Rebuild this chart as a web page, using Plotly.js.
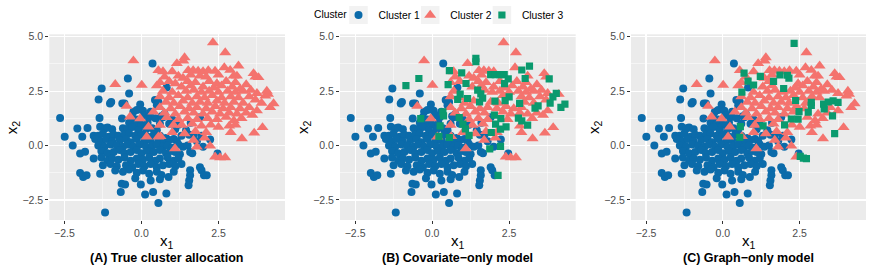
<!DOCTYPE html>
<html>
<head>
<meta charset="utf-8">
<script src="https://cdn.plot.ly/plotly-3.0.1.min.js"></script>
<style>html,body{margin:0;padding:0;background:#fff;}#chart{width:872px;height:277px;}</style>
</head>
<body>
<div id="chart"></div>
<script>
// ---- Data ----
// True cluster 1 points (x1, x2)
const c1_pts = [
[-1.29,2.62],[0.82,2.67],[-0.40,2.39],[-0.44,3.08],[0.36,3.77],
[-1.39,2.12],[0.44,2.09],[0.55,2.0],
[-1.02,1.93],[-0.98,2.0],[-0.62,1.93],[-0.55,1.93],[-0.04,1.89],[0.5,1.85],
[-0.26,1.55],[-0.15,1.63],[0.05,1.6],[0.3,1.55],[0.75,1.45],[0.1,1.4],
[-2.64,1.27],[-1.36,1.27],[-0.63,1.24],[-0.3,1.3],[-0.15,1.2],[0.25,1.3],[0.45,1.25],[0.65,1.35],[0.7,1.3],[1.0,1.2],[1.9,1.3],
[-0.4,1.05],[-0.2,1.0],[0.0,0.95],[0.2,1.05],[0.6,1.0],[0.9,1.0],[1.2,0.95],[1.6,1.05],
[-2.08,0.78],[-1.75,0.81],[-1.34,0.86],[-1.18,0.8],[-1.1,0.83],[-0.95,0.75],[-0.6,0.8],[-0.45,0.75],[-0.3,0.85],[-0.1,0.7],[0.15,0.75],[0.35,0.8],[0.5,0.7],[1.1,0.75],[1.45,0.7],
[-1.55,0.45],[-1.4,0.45],[-1.25,0.55],[-1.05,0.4],[-0.9,0.5],[-0.75,0.45],[-0.55,0.5],[-0.4,0.55],[-0.2,0.45],[0.0,0.5],[0.2,0.4],[0.4,0.5],[0.6,0.45],[0.8,0.35],[1.3,0.45],[1.55,0.5],[1.7,0.5],[1.95,0.45],
[-2.49,0.40],[-1.92,0.40],[-1.5,0.3],[-1.3,0.2],[-1.15,0.3],[-0.95,0.2],[-0.7,0.25],[-0.5,0.3],[-0.35,0.15],[-0.15,0.3],[0.1,0.2],[0.3,0.25],[0.55,0.2],[0.75,0.15],[0.9,0.25],[1.05,0.3],[1.15,0.2],[1.8,0.2],[2.23,0.28],
[-2.23,0.0],[-1.4,0.0],[-1.2,-0.05],[-1.0,0.05],[-0.8,0.0],[-0.6,-0.05],[-0.45,0.05],[-0.25,-0.05],[-0.05,0.05],[0.15,-0.05],[0.35,0.0],[0.5,0.05],[0.7,-0.05],[0.85,0.0],[1.0,-0.1],[1.2,0.05],[1.35,-0.05],[1.5,0.0],[2.0,-0.06],
[-1.99,-0.37],[-1.83,-0.29],[-1.3,-0.25],[-1.1,-0.35],[-0.9,-0.3],[-0.7,-0.2],[-0.55,-0.35],[-0.35,-0.3],[-0.15,-0.2],[0.0,-0.35],[0.2,-0.25],[0.4,-0.3],[0.6,-0.2],[0.8,-0.35],[0.95,-0.25],[1.1,-0.3],[1.25,-0.4],[1.58,-0.3],[1.65,-0.35],[2.47,-0.37],
[-1.55,-0.6],[-1.3,-0.55],[-1.1,-0.7],[-0.95,-0.6],[-0.75,-0.65],[-0.55,-0.55],[-0.35,-0.7],[-0.15,-0.6],[0.05,-0.65],[0.25,-0.55],[0.45,-0.7],[0.6,-0.6],[0.85,-0.55],[1.05,-0.7],[1.2,-0.6],
[-1.25,-0.9],[-1.0,-0.85],[-0.8,-0.95],[-0.5,-0.9],[-0.3,-1.0],[-0.1,-0.85],[0.1,-0.95],[0.3,-0.85],[0.5,-1.0],[0.7,-0.9],[0.9,-0.85],[1.1,-0.95],[1.3,-0.85],
[-1.99,-1.26],[-1.89,-1.44],[-1.78,-1.37],[-1.34,-1.29],[-0.85,-1.15],[-0.6,-1.2],[-0.4,-1.1],[-0.15,-1.25],[0.05,-1.15],[0.25,-1.3],[0.5,-1.2],[0.65,-1.35],[0.88,-1.44],[1.05,-1.2],[1.58,-1.13],[1.9,-1.0],[1.95,-1.13],[2.03,-1.37],[2.12,-1.37],
[-0.2,-1.5],[0.3,-1.6],[0.6,-1.55],[1.58,-1.37],[1.55,-1.6],[1.53,-1.82],
[-0.64,-1.75],[-0.53,-1.79],[-0.67,-2.13],[-0.02,-1.79],[0.12,-2.25],[0.38,-2.13],[0.55,-2.64],[0.81,-2.2],[-1.18,-3.08]
];
// True cluster 2 points
const c2_pts = [
[2.32,4.73],[2.72,4.27],[1.40,4.04],[1.36,3.89],[-0.26,3.90],
[1.15,3.77],[3.15,3.66],[2.69,3.58],
[0.55,3.45],[0.7,3.4],[1.0,3.4],[1.52,3.45],[1.68,3.45],[1.84,3.42],[2.0,3.4],[2.17,3.45],[2.39,3.42],[2.88,3.46],[3.64,3.31],
[0.75,3.15],[1.2,3.2],[1.35,3.1],[1.6,3.25],[1.9,3.2],[2.1,3.15],[2.5,3.25],[2.99,3.2],[3.1,3.2],[3.8,3.13],[3.7,3.15],
[0.6,2.9],[0.9,2.95],[1.1,2.85],[1.5,2.95],[1.75,2.9],[2.2,2.95],[2.45,2.85],[2.75,2.95],[3.05,2.9],[3.4,2.8],
[-0.85,2.81],[0.01,2.78],[0.5,2.75],[1.3,2.7],[1.6,2.75],[2.0,2.7],[2.35,2.65],[2.6,2.75],[2.95,2.7],[3.2,2.6],
[0.7,2.5],[1.0,2.45],[1.45,2.5],[1.7,2.55],[1.95,2.45],[2.2,2.5],[2.5,2.45],[2.8,2.5],[3.05,2.45],[3.3,2.5],[3.55,2.55],[3.75,2.4],[4.02,2.28],[4.11,2.36],[4.07,2.5],
[0.6,2.25],[0.9,2.2],[1.2,2.3],[1.5,2.2],[1.8,2.25],[2.05,2.2],[2.3,2.3],[2.6,2.2],[2.9,2.25],[3.15,2.2],[3.5,2.25],[3.7,2.1],
[0.8,2.0],[1.05,1.95],[1.35,2.05],[1.65,1.95],[1.9,2.0],[2.15,1.95],[2.45,2.05],[2.7,1.95],[3.0,2.0],[3.3,1.95],[3.9,1.95],[4.29,1.93],[4.18,1.75],
[-0.48,1.81],[0.6,1.75],[0.95,1.7],[1.25,1.8],[1.55,1.7],[1.8,1.75],[2.1,1.7],[2.4,1.8],[2.65,1.7],[2.9,1.75],[3.2,1.7],[3.5,1.75],[3.75,1.6],
[0.39,1.55],[0.75,1.5],[1.1,1.45],[1.4,1.55],[1.7,1.5],[2.0,1.45],[2.3,1.55],[2.55,1.45],[2.85,1.5],[3.1,1.45],[3.4,1.5],[3.6,1.4],
[-0.37,1.32],[-0.04,1.24],[0.82,1.29],[1.2,1.2],[1.5,1.25],[1.8,1.2],[2.15,1.25],[2.45,1.2],[2.75,1.3],[3.0,1.15],[3.25,1.25],
[0.23,0.86],[0.6,0.94],[1.04,0.94],[1.31,0.94],[1.65,1.0],[1.95,0.9],[2.25,0.95],[2.5,0.85],[2.85,0.9],[3.05,0.95],
[1.0,0.6],[1.4,0.55],[1.75,0.65],[2.1,0.6],[2.9,0.6],[3.66,0.58],[3.93,0.83],
[0.17,0.40],[0.55,0.4],[0.62,0.42],[1.69,0.25],[2.05,0.35],[3.26,0.32],
[1.09,-0.14],[1.8,-0.06],[2.23,-0.02],[2.39,-0.52],[2.55,-0.55],[2.72,-0.55]
];
// Points put in cluster 3 by the covariate-only model (panel B)
const covB_c3_pts = [
[-0.85,2.75],[-0.43,3.08],[-0.37,1.24],[0.56,3.44],[0.52,2.8],[0.35,1.55],[0.37,1.36],[0.26,0.9],[0.22,0.42],[0.56,0.37],
[0.88,1.28],[1.0,0.98],[1.08,0.77],[1.2,0.47],[0.96,3.34],[1.1,2.85],[0.91,2.36],[1.15,2.16],[0.83,2.12],[1.42,3.85],[1.42,4.0],
[1.48,2.55],[1.54,2.0],[1.58,2.37],[1.64,2.18],[1.9,3.26],[2.05,3.26],[2.2,3.26],[2.34,3.26],[2.47,3.06],[2.35,2.84],
[2.02,1.4],[2.04,2.04],[2.23,1.24],[2.37,2.06],[2.5,2.24],[2.4,0.86],[1.87,-0.15],[2.22,-0.04],[2.14,-1.37],
[2.84,1.94],[2.8,1.26],[2.91,1.13],[2.91,3.47],[3.02,3.08],[3.16,3.65],[3.1,0.94],[3.34,1.72],[3.44,1.82],[3.8,3.06],
[3.83,1.95],[3.92,2.24],[4.03,2.4],[4.18,1.75],[4.31,1.9],[2.06,0.98],[2.22,0.75],[1.92,0.6]
];
// Points put in cluster 3 by the graph-only model (panel C)
const graphC_c3_pts = [
[2.32,4.69],[0.69,3.33],[0.82,2.96],[1.0,2.78],[0.62,2.45],[1.22,3.18],[1.65,2.95],[1.86,3.24],[2.1,3.23],[2.15,3.1],
[1.98,2.62],[2.37,2.07],[2.88,1.98],[2.88,1.84],[2.78,1.53],[2.48,1.56],[2.45,1.21],[2.23,1.22],[2.01,0.95],[1.31,0.9],
[0.57,0.87],[0.55,0.38],[2.52,-0.5],[2.62,-0.58],[2.72,-0.6],[3.3,1.68],[3.28,1.9],[3.43,2.0],[3.59,2.05],[3.75,1.98],
[3.57,1.36],[3.64,0.55]
];
const legendTitle = 'Cluster';
const clusterNames = ['Cluster 1','Cluster 2','Cluster 3'];
const panelCaptions = ['(A) True cluster allocation','(B) Covariate\u2212only model','(C) Graph\u2212only model'];

// ---- styling ----
const COLORS = ['#0B6BAA','#F4736E','#0A9A6E'];
const SYMBOLS = ['circle','triangle-up','square'];
const SIZES = [8,10.5,7.2];
const XR = [-2.99,4.66], YR = [-3.42,5.11];
const W = 872, H = 277;
const xdom = [[49.3,285],[340,575.7],[631,866]];
const ydom = [1-220/H, 1-34.3/H];
const legendNames = ['legend','legend2','legend3'];
const legendLeft = [338.5,410.2,481.9];   // legend box left edges (px)

// remove base points that coincide with the reassigned points of a panel
function splitPanel(reassigned){
  const all = [];
  c1_pts.forEach(p=>all.push({p, c:0, keep:true}));
  c2_pts.forEach(p=>all.push({p, c:1, keep:true}));
  reassigned.forEach(q=>{
    let best=-1, bd=1e9;
    all.forEach((o,i)=>{ if(!o.keep) return;
      const dx=(o.p[0]-q[0])*30.8, dy=(o.p[1]-q[1])*21.76; const d=dx*dx+dy*dy;
      if(d<bd){bd=d;best=i;} });
    if(best>=0 && bd<36) all[best].keep=false;
  });
  return [all.filter(o=>o.keep&&o.c===0).map(o=>o.p), all.filter(o=>o.keep&&o.c===1).map(o=>o.p)];
}

function trace(pts, k, axn, show){
  return {type:'scatter', mode:'markers', x:pts.map(p=>p[0]), y:pts.map(p=>p[1]),
    xaxis:'x'+axn, yaxis:'y'+axn, name:clusterNames[k], legendgroup:'g'+k, showlegend:show, legend:legendNames[k],
    marker:{color:COLORS[k], symbol:SYMBOLS[k], size:SIZES[k], line:{width:0}}, hoverinfo:'skip'};
}
const data = [];
data.push(trace(c1_pts,0,'',true));
data.push(trace(c2_pts,1,'',true));
const bSplit = splitPanel(covB_c3_pts);
data.push(trace(bSplit[0],0,'2',false));
data.push(trace(bSplit[1],1,'2',false));
data.push(trace(covB_c3_pts,2,'2',true));
const cSplit = splitPanel(graphC_c3_pts);
data.push(trace(cSplit[0],0,'3',false));
data.push(trace(cSplit[1],1,'3',false));
data.push(trace(graphC_c3_pts,2,'3',false));

function axis(i, isX){
  const a = {range: isX?XR:YR, showgrid:true, gridcolor:'#FFFFFF', gridwidth:1.1, zeroline:false, showline:false,
    ticks:'outside', ticklen:3, tickcolor:'#333333', tickwidth:1, tick0:0, dtick:2.5, tickformat:'.1f',
    tickfont:{size:10.5, color:'#4D4D4D'}, fixedrange:true,
    minor:{dtick:1.25, tick0:0, showgrid:true, gridcolor:'#FFFFFF', gridwidth:0.5}};
  if(isX){ a.domain=[xdom[i][0]/W, xdom[i][1]/W]; a.anchor = i===0?'y':'y'+(i+1); }
  else { a.domain=ydom; a.anchor = i===0?'x':'x'+(i+1); }
  return a;
}
const annotations = [];
xdom.forEach((d,i)=>{
  const cx = (d[0]+d[1])/2/W;
  annotations.push({xref:'paper',yref:'paper',x:cx,y:1-241/H,xanchor:'center',yanchor:'middle',showarrow:false,
    text:'x<sub>1</sub>',font:{size:15,color:'#000'}});
  annotations.push({xref:'paper',yref:'paper',x:cx,y:1-257.5/H,xanchor:'center',yanchor:'middle',showarrow:false,
    text:'<b>'+panelCaptions[i]+'</b>',font:{size:12.5,color:'#000'}});
  annotations.push({xref:'paper',yref:'paper',x:(d[0]-37)/W,y:1-127/H,xanchor:'center',yanchor:'middle',showarrow:false,
    textangle:-90,text:'x<sub>2</sub>',font:{size:15,color:'#000'}});
});
annotations.push({xref:'paper',yref:'paper',x:311.5/W,y:1-15/H,xanchor:'left',yanchor:'middle',showarrow:false,
  text:legendTitle,font:{size:10.3,color:'#000'}});

// grey key backgrounds centred on the legend symbols (symbol sits 20px right of legend left)
const shapes = legendLeft.map(l=>({type:'rect',xref:'paper',yref:'paper',x0:(l+20-9.25)/W,x1:(l+20+9.25)/W,y0:1-24/H,y1:1-6/H,
  fillcolor:'#F2F2F2',line:{width:0},layer:'below'}));

function legendAt(px){
  return {orientation:'h', x:px/W, xanchor:'left', y:1-15/H, yanchor:'middle',
    font:{size:10.3,color:'#000'}, itemwidth:30, bgcolor:'rgba(0,0,0,0)', borderwidth:0};
}
const layout = {
  width:W, height:H, margin:{l:0,r:0,t:0,b:0}, paper_bgcolor:'#FFFFFF', plot_bgcolor:'#EBEBEB',
  font:{family:'"Liberation Sans", Arial, sans-serif', color:'#000'},
  showlegend:true,
  legend:legendAt(legendLeft[0]), legend2:legendAt(legendLeft[1]), legend3:legendAt(legendLeft[2]),
  xaxis:axis(0,true), yaxis:axis(0,false),
  xaxis2:axis(1,true), yaxis2:axis(1,false),
  xaxis3:axis(2,true), yaxis3:axis(2,false),
  annotations, shapes
};
Plotly.newPlot('chart', data, layout, {displayModeBar:false, staticPlot:true});
</script>
</body>
</html>
